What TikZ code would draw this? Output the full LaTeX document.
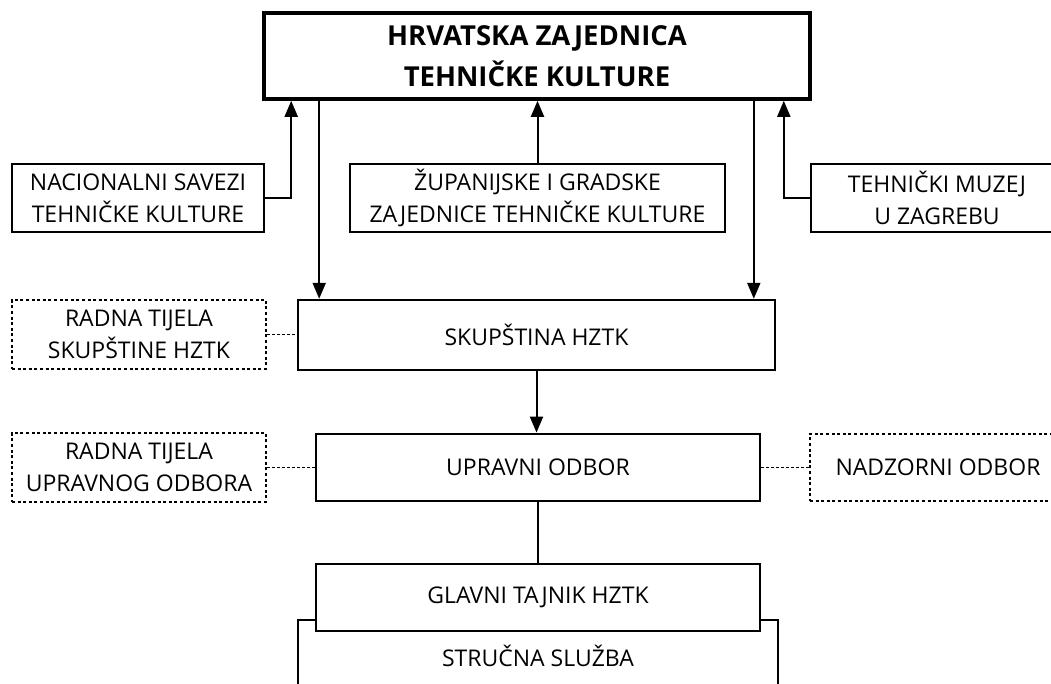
\documentclass[tikz,border=0pt]{standalone}
\usepackage{fontspec}
\setmainfont{Open Sans}
\usepackage{tikz}
\usetikzlibrary{arrows.meta,positioning}

\begin{document}
\begin{tikzpicture}[x=1pt,y=-1pt,
  box/.style={draw=black,line width=2pt,fill=white,inner sep=0pt,align=center,
    font=\fontsize{23}{32}\selectfont},
  dotbox/.style={box,dash pattern=on 3pt off 2.6pt},
  arr/.style={line width=2pt,-{Triangle[length=16pt,width=13pt]}},
  link/.style={line width=2pt},
  dotlink/.style={line width=1.8pt,dash pattern=on 2.5pt off 2.5pt}]
\clip (0,0) rectangle (1051,684);
\node[box,line width=3.6pt,minimum width=546pt,minimum height=86pt,
  font=\fontsize{27.5}{41}\selectfont\bfseries] (hztk) at (537,56) {HRVATSKA ZAJEDNICA\\TEHNIČKE KULTURE};
\node[box,minimum width=252pt,minimum height=68pt] (savezi) at (138,198) {NACIONALNI SAVEZI\\TEHNIČKE KULTURE};
\node[box,minimum width=375pt,minimum height=68pt] (zupanije) at (537.5,198) {ŽUPANIJSKE I GRADSKE\\ZAJEDNICE TEHNIČKE KULTURE};
\node[box,minimum width=252pt,minimum height=68pt] (muzej) at (937,198) {TEHNIČKI MUZEJ\\U ZAGREBU};
\node[box,line width=2.4pt,minimum width=477pt,minimum height=70pt] (skup) at (536.5,335) {SKUPŠTINA HZTK};
\node[dotbox,minimum width=254pt,minimum height=69pt] (radnaskup) at (139,334.5) {RADNA TIJELA\\SKUPŠTINE HZTK};
\node[box,line width=2.8pt,minimum width=444pt,minimum height=67pt] (upravni) at (538,467.5) {UPRAVNI ODBOR};
\node[dotbox,minimum width=254pt,minimum height=69pt] (radnauo) at (139,467.5) {RADNA TIJELA\\UPRAVNOG ODBORA};
\node[dotbox,minimum width=256pt,minimum height=67pt] (nadzor) at (938,467.5) {NADZORNI ODBOR};
\node[box,minimum width=480pt,minimum height=72pt] (struc) at (538,656) {STRUČNA SLUŽBA};
\node[box,line width=2.4pt,minimum width=444pt,minimum height=67pt] (glavni) at (538,597.5) {GLAVNI TAJNIK HZTK};

\draw[arr] (savezi.east) -| ([xshift=29pt]hztk.south west);
\draw[arr] (zupanije.north) -- (zupanije.north |- hztk.south);
\draw[arr] (muzej.west) -| ([xshift=-28pt]hztk.south east);
\draw[arr] ([xshift=57pt]hztk.south west) -- ([xshift=57pt]hztk.south west |- skup.north);
\draw[arr] ([xshift=-58pt]hztk.south east) -- ([xshift=-58pt]hztk.south east |- skup.north);
\draw[arr] (skup.south) -- (skup.south |- upravni.north);
\draw[link] (upravni.south) -- (glavni.north);
\draw[dotlink] (radnaskup.east) -- (radnaskup.east -| skup.west);
\draw[dotlink] (radnauo.east) -- (upravni.west);
\draw[dotlink] (upravni.east) -- (nadzor.west);
\end{tikzpicture}
\end{document}
